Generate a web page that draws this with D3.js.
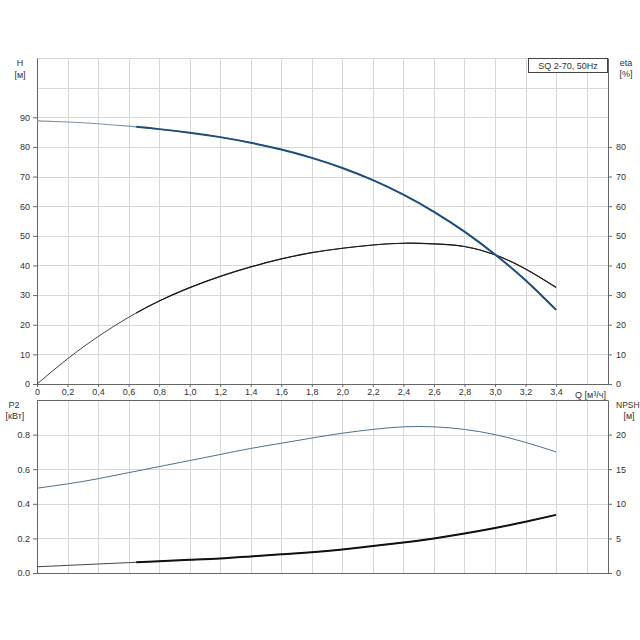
<!DOCTYPE html>
<html>
<head>
<meta charset="utf-8">
<script src="https://cdn.jsdelivr.net/npm/d3@7"></script>
<style>
  body { margin: 0; background: #fff; }
  text { font-family: "Liberation Sans", Arial, sans-serif; font-size: 9px; fill: #333; }
</style>
</head>
<body>
<script>
// 画布
const width = 640;
const height = 640;

// 数据
const flow = [0, 0.2, 0.4, 0.6, 0.8, 1.0, 1.2, 1.4, 1.6, 1.8, 2.0, 2.2, 2.4, 2.6, 2.8, 3.0, 3.2, 3.4];
const head = [88.8, 88.4, 87.8, 87.0, 86.0, 84.8, 83.3, 81.4, 79.1, 76.3, 72.9, 68.8, 63.9, 58.1, 51.4, 43.7, 35.0, 25.0];
const eta = [0, 8.5, 16, 22.5, 28, 32.5, 36.3, 39.5, 42.2, 44.3, 45.8, 46.9, 47.5, 47.3, 46.4, 43.6, 38.8, 32.6];
const power = [0.49, 0.515, 0.545, 0.58, 0.615, 0.65, 0.685, 0.72, 0.75, 0.78, 0.808, 0.83, 0.845, 0.845, 0.83, 0.80, 0.755, 0.70];
const npsh = [0.9, 1.1, 1.3, 1.5, 1.7, 1.9, 2.1, 2.4, 2.7, 3.0, 3.4, 3.9, 4.4, 5.0, 5.7, 6.5, 7.4, 8.4];

const xTicks = [0, 0.2, 0.4, 0.6, 0.8, 1.0, 1.2, 1.4, 1.6, 1.8, 2.0, 2.2, 2.4, 2.6, 2.8, 3.0, 3.2, 3.4];
const xGrid = xTicks.concat([3.6]);
const hTicks = [0, 10, 20, 30, 40, 50, 60, 70, 80, 90];
const etaTicks = [0, 10, 20, 30, 40, 50, 60, 70, 80];
const hGrid = [10, 20, 30, 40, 50, 60, 70, 80, 90, 100, 110];
const pTicks = [0, 0.2, 0.4, 0.6, 0.8];
const npshTicks = [0, 5, 10, 15, 20];
// 粗线开始的流量
const boldFrom = 0.65;

// 比例尺
const x = d3.scaleLinear().domain([0, 3.74]).range([37, 608]);
const yTop = d3.scaleLinear().domain([0, 110]).range([384, 58]);
const yBot = d3.scaleLinear().domain([0, 1.0]).range([573, 400]);
const yNpsh = d3.scaleLinear().domain([0, 25]).range([573, 400]);

const comma = d => d === 0 ? '0' : d3.format('.1f')(d).replace('.', ',');

const svg = d3.select('body').append('svg')
    .attr('width', width)
    .attr('height', height);

svg.append('clipPath').attr('id', 'bold')
  .append('rect').attr('x', x(boldFrom)).attr('y', 0)
  .attr('width', x.range()[1] - x(boldFrom)).attr('height', height);

// 网格
function grid(yScale, vals) {
  const g = svg.append('g').attr('stroke', '#d8d8d8').attr('stroke-width', 1);
  g.selectAll('.v').data(xGrid).enter().append('line')
    .attr('x1', d => Math.round(x(d)) + 0.5).attr('x2', d => Math.round(x(d)) + 0.5)
    .attr('y1', yScale.range()[0]).attr('y2', yScale.range()[1]);
  g.selectAll('.h').data(vals).enter().append('line')
    .attr('x1', x.range()[0]).attr('x2', x.range()[1])
    .attr('y1', d => Math.round(yScale(d)) + 0.5).attr('y2', d => Math.round(yScale(d)) + 0.5);
}
grid(yTop, hGrid);
grid(yBot, [0.2, 0.4, 0.6, 0.8]);

// 坐标轴
function styleAxis(g) {
  g.selectAll('.domain').attr('stroke', '#666');
  g.selectAll('.tick line').attr('stroke', '#666');
  g.selectAll('.tick text').attr('fill', '#333').style('font-size', '9px')
    .style('font-family', '"Liberation Sans", Arial, sans-serif');
}

svg.append('g').attr('transform', 'translate(' + x(0) + ',0)')
  .call(d3.axisLeft(yTop).tickValues(hTicks).tickSize(4).tickPadding(3).tickSizeOuter(0))
  .call(styleAxis);
svg.append('g').attr('transform', 'translate(' + x.range()[1] + ',0)')
  .call(d3.axisRight(yTop).tickValues(etaTicks).tickSize(4).tickPadding(4).tickSizeOuter(0))
  .call(styleAxis);
svg.append('g').attr('transform', 'translate(0,' + yTop(0) + ')')
  .call(d3.axisBottom(x).tickValues(xTicks).tickFormat(comma).tickSize(3).tickPadding(2).tickSizeOuter(0))
  .call(styleAxis);

svg.append('g').attr('transform', 'translate(' + x(0) + ',0)')
  .call(d3.axisLeft(yBot).tickValues(pTicks).tickFormat(d3.format('.1f')).tickSize(4).tickPadding(3).tickSizeOuter(0))
  .call(styleAxis);
svg.append('g').attr('transform', 'translate(' + x.range()[1] + ',0)')
  .call(d3.axisRight(yNpsh).tickValues(npshTicks).tickSize(4).tickPadding(4).tickSizeOuter(0))
  .call(styleAxis);

// 下面板的边框
const frame = svg.append('g').attr('stroke', '#666').attr('fill', 'none');
frame.append('line').attr('x1', x.range()[0]).attr('x2', x.range()[1])
  .attr('y1', yBot(1) + 0.5).attr('y2', yBot(1) + 0.5);
frame.append('line').attr('x1', x.range()[0]).attr('x2', x.range()[1])
  .attr('y1', yBot(0) + 0.5).attr('y2', yBot(0) + 0.5);

// 曲线
function curve(vals, yScale, color, w, bold) {
  const pts = flow.map((q, i) => [q, vals[i]]);
  const line = d3.line().x(d => x(d[0])).y(d => yScale(d[1])).curve(d3.curveNatural);
  const p = svg.append('path').datum(pts)
    .attr('fill', 'none').attr('stroke', color).attr('stroke-width', w)
    .attr('d', line);
  if (bold) p.attr('clip-path', 'url(#bold)');
}
curve(eta, yTop, '#444', 1, false);
curve(eta, yTop, '#1a1a1a', 1.2, true);
curve(head, yTop, '#7d93aa', 1.1, false);
curve(head, yTop, '#1d4e7e', 2, true);
curve(power, yBot, '#4e6f91', 1, false);
curve(npsh, yNpsh, '#444', 1, false);
curve(npsh, yNpsh, '#111', 2, true);

// 标签
function label(t, lx, ly, anchor, size) {
  svg.append('text').attr('x', lx).attr('y', ly).attr('text-anchor', anchor || 'middle')
    .style('font-size', (size || 9) + 'px').text(t);
}
label('H', 20, 66);
label('[м]', 20, 78);
label('eta', 626, 66);
label('[%]', 626, 77);
label('P2', 14, 408);
label('[кВт]', 15, 419);
label('NPSH', 616, 408, 'start', 8.5);
label('[м]', 629, 419);
label('Q [м³/ч]', 575, 398, 'start');

// 图例框
svg.append('rect').attr('x', 528.5).attr('y', 58.5).attr('width', 79).attr('height', 14)
  .attr('fill', '#fff').attr('stroke', '#444');
label('SQ 2-70, 50Hz', 568, 69);
</script>
</body>
</html>
